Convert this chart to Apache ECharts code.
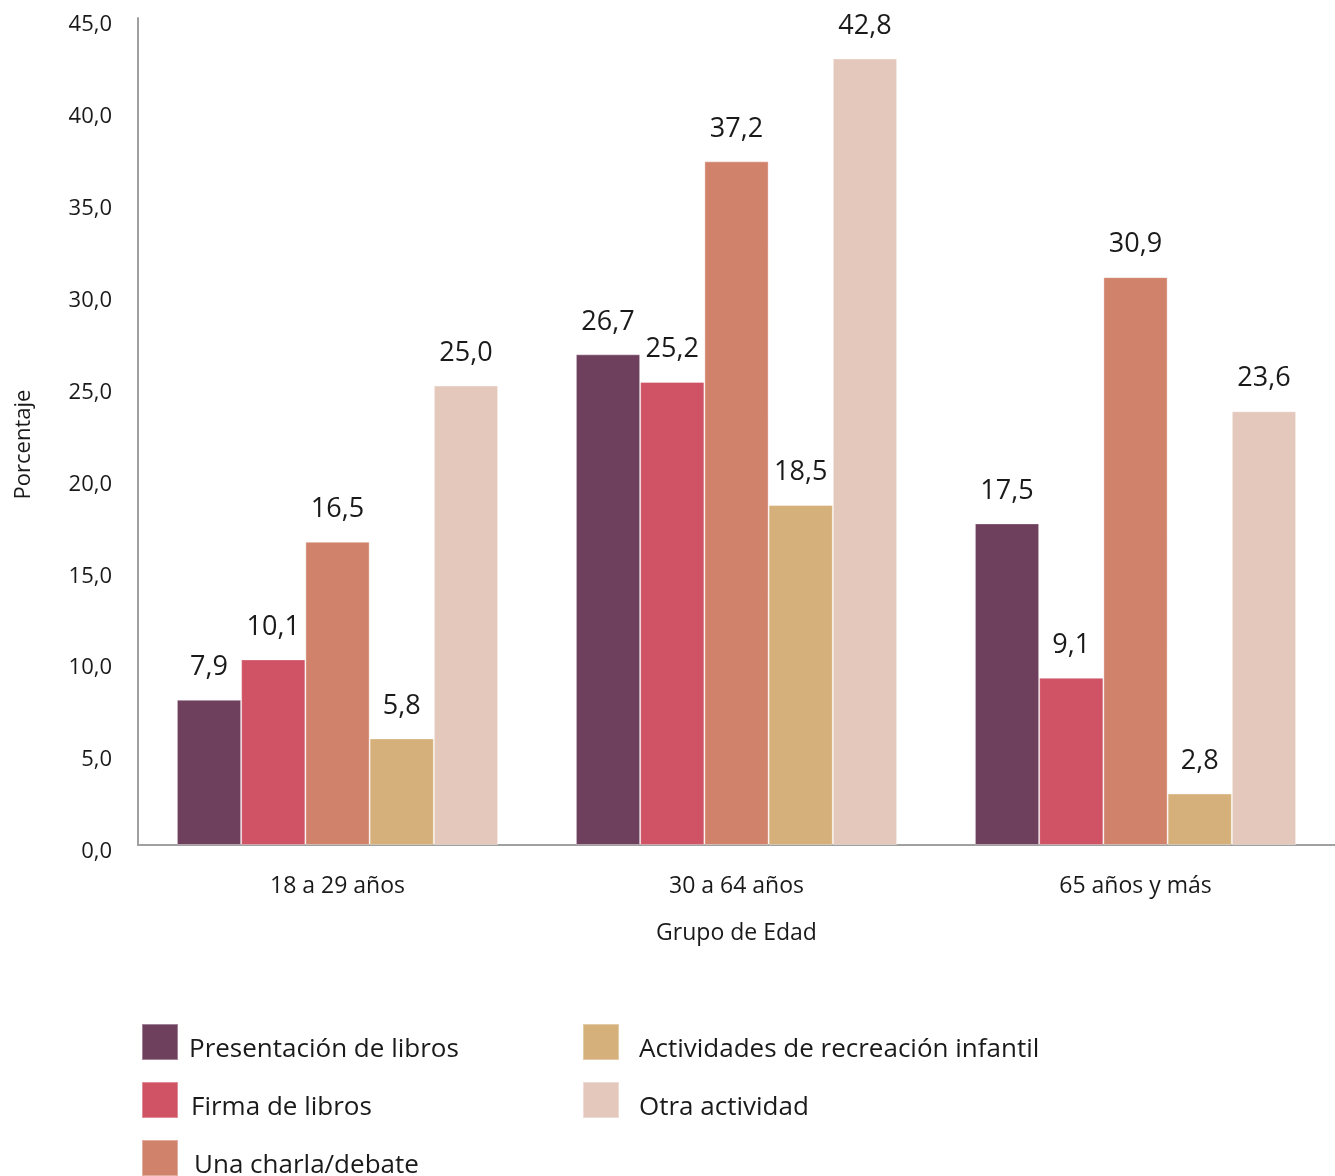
<!DOCTYPE html>
<html>
<head>
<meta charset="utf-8">
<script src="https://cdn.jsdelivr.net/npm/echarts@6/dist/echarts.min.js"></script>
<style>
html,body{margin:0;padding:0;background:#fff;}
#chart{width:1335px;height:1176px;}
</style>
</head>
<body>
<div id="chart"></div>
<script>
const categories = ['18 a 29 años', '30 a 64 años', '65 años y más'];
const seriesNames = ['Presentación de libros', 'Firma de libros', 'Una charla/debate', 'Actividades de recreación infantil', 'Otra actividad'];
const presentacion = [7.9, 26.7, 17.5];
const firma = [10.1, 25.2, 9.1];
const charla = [16.5, 37.2, 30.9];
const actividades = [5.8, 18.5, 2.8];
const otra = [25.0, 42.8, 23.6];
const colors = ['#6F405E', '#D05265', '#D0836A', '#D6B07A', '#E5C8BC'];
const seriesValues = [presentacion, firma, charla, actividades, otra];

const FONT = 'Open Sans';
const fmt = v => Number(v).toFixed(1).replace('.', ',');

// legend placement (one legend per entry: column x, row y, text gap)
const legendSlots = [
  {left: 141, top: 1021, gap: 6},
  {left: 141, top: 1079, gap: 8},
  {left: 141, top: 1137, gap: 11},
  {left: 582, top: 1021, gap: 15},
  {left: 582, top: 1079, gap: 15}
];

const chart = echarts.init(document.getElementById('chart'), null, {renderer: 'canvas'});
chart.setOption({
  backgroundColor: '#fff',
  textStyle: {fontFamily: FONT, color: '#1a1a1a'},
  grid: {left: 138, right: 0, top: 18, bottom: 331, containLabel: false},
  legend: seriesNames.map((name, i) => ({
    data: [name],
    orient: 'vertical', left: legendSlots[i].left, top: legendSlots[i].top, padding: 0,
    itemWidth: 36, itemHeight: 36,
    icon: 'rect',
    formatter: n => '\n' + n,
    textStyle: {fontFamily: FONT, fontSize: 26, color: '#1a1a1a', lineHeight: 16, padding: [0, 0, 0, legendSlots[i].gap]}
  })),
  xAxis: {
    type: 'category',
    data: categories,
    name: 'Grupo de Edad',
    nameLocation: 'middle',
    nameGap: 77,
    nameTextStyle: {fontFamily: FONT, fontSize: 23, color: '#1a1a1a'},
    axisLine: {lineStyle: {color: '#A0A0A0', width: 2}},
    axisTick: {show: false},
    axisLabel: {fontFamily: FONT, fontSize: 23, color: '#1a1a1a', margin: 30}
  },
  yAxis: {
    type: 'value',
    min: 0, max: 45, interval: 5,
    name: 'Porcentaje',
    nameLocation: 'middle',
    nameGap: 103,
    nameTextStyle: {fontFamily: FONT, fontSize: 22, color: '#1a1a1a', padding: [0, 26, 0, 0]},
    axisLine: {show: true, lineStyle: {color: '#A0A0A0', width: 2}},
    axisTick: {show: false},
    splitLine: {show: false},
    axisLabel: {
      fontFamily: FONT, fontSize: 22, color: '#1a1a1a', margin: 26,
      formatter: v => '{a|' + fmt(v) + '}',
      rich: {a: {fontFamily: FONT, fontSize: 22, color: '#1a1a1a', padding: [14, 0, 0, 0]}}
    }
  },
  series: seriesNames.map((name, i) => ({
    name: name,
    type: 'bar',
    data: seriesValues[i],
    barGap: '0%',
    barCategoryGap: '19.5%',
    itemStyle: {color: colors[i], borderColor: 'rgba(255,255,255,0.35)', borderWidth: 1},
    label: {
      show: true, position: 'top', distance: 19,
      fontFamily: FONT, fontSize: 27, color: '#1a1a1a',
      formatter: p => fmt(p.value)
    },
    emphasis: {disabled: true}
  })),
  animation: false
});
</script>
</body>
</html>
